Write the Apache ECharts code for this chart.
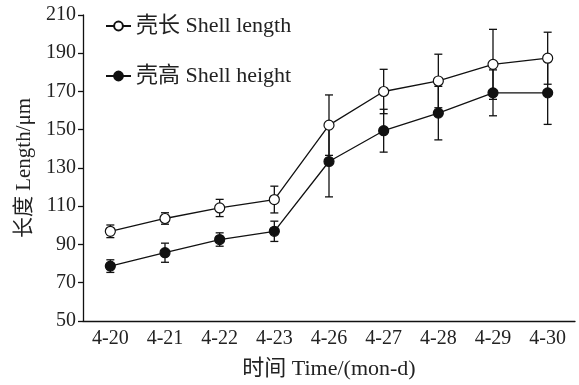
<!DOCTYPE html>
<html><head><meta charset="utf-8">
<script src="https://cdn.jsdelivr.net/npm/echarts@6/dist/echarts.min.js"></script>
<style>html,body{margin:0;padding:0;background:#fff}#c{width:579px;height:385px}</style>
</head><body><div id="c"></div>
<script>
var categories = ['4-20','4-21','4-22','4-23','4-26','4-27','4-28','4-29','4-30'];
var lengthValues = [96.9, 103.6, 109.1, 113.5, 152.4, 170.0, 175.5, 184.2, 187.4];
var lengthErr    = [3.3, 3.0, 4.5, 7.0, 15.8, 11.6, 14.0, 18.3, 13.6];
var heightValues = [78.7, 85.7, 92.6, 96.9, 133.4, 149.5, 158.7, 169.3, 169.3];
var heightErr    = [3.3, 5.0, 3.5, 5.3, 18.5, 11.2, 14.0, 12.0, 16.5];
var yTicks = {min: 50, max: 210, interval: 20};
var seriesNames = ['壳长 Shell length', '壳高 Shell height'];
var xName = '时间 Time/(mon-d)';
var yName = '长度 Length/μm';

var FONT = '"Liberation Serif", "Noto Sans CJK SC", serif';
var TXT = '#222';

var chart = echarts.init(document.getElementById('c'), null, {renderer: 'canvas'});

function errData(vals, errs) {
  return vals.map(function (v, i) { return [i, v - errs[i], v + errs[i]]; });
}
function errRender(params, api) {
  var x = api.value(0);
  var lo = api.coord([x, api.value(1)]);
  var hi = api.coord([x, api.value(2)]);
  var w = 4;
  var st = {stroke: '#111', lineWidth: 1.3};
  return {
    type: 'group',
    children: [
      {type: 'line', shape: {x1: lo[0], y1: lo[1], x2: hi[0], y2: hi[1]}, style: st},
      {type: 'line', shape: {x1: lo[0] - w, y1: lo[1], x2: lo[0] + w, y2: lo[1]}, style: st},
      {type: 'line', shape: {x1: hi[0] - w, y1: hi[1], x2: hi[0] + w, y2: hi[1]}, style: st}
    ]
  };
}

chart.setOption({
  animation: false,
  backgroundColor: '#fff',
  grid: {left: 83, right: 4, top: 15, bottom: 63, containLabel: false},
  legend: {
    orient: 'vertical', left: 100, top: 10, itemGap: 28, itemWidth: 25, itemHeight: 11,
    textStyle: {fontFamily: FONT, fontSize: 22, color: TXT},
    data: seriesNames
  },
  xAxis: {
    type: 'category', data: categories, boundaryGap: true,
    name: xName, nameLocation: 'middle', nameGap: 37,
    nameTextStyle: {fontFamily: FONT, fontSize: 22, color: TXT},
    axisLine: {lineStyle: {color: '#111', width: 1.3}},
    axisTick: {inside: true, length: 5, lineStyle: {color: '#111', width: 1.3}},
    axisLabel: {fontFamily: FONT, fontSize: 20, color: TXT, margin: 8},
    splitLine: {show: false}
  },
  yAxis: {
    type: 'value', min: yTicks.min, max: yTicks.max, interval: yTicks.interval,
    name: yName, nameLocation: 'middle', nameGap: 47,
    nameTextStyle: {fontFamily: FONT, fontSize: 21, color: TXT},
    axisLine: {show: true, lineStyle: {color: '#111', width: 1.3}},
    axisTick: {show: true, inside: false, length: 5, lineStyle: {color: '#111', width: 1.3}},
    axisLabel: {fontFamily: FONT, fontSize: 20, color: TXT, margin: 7},
    splitLine: {show: false}
  },
  series: [
    {type: 'custom', name: 'lenErr', renderItem: errRender, data: errData(lengthValues, lengthErr), z: 1, silent: true},
    {type: 'custom', name: 'hgtErr', renderItem: errRender, data: errData(heightValues, heightErr), z: 1, silent: true},
    {
      type: 'line', name: seriesNames[0], data: lengthValues, z: 3,
      symbol: 'circle', symbolSize: 10, showAllSymbol: true,
      lineStyle: {color: '#111', width: 1.3},
      itemStyle: {color: '#fff', borderColor: '#111', borderWidth: 1.2}
    },
    {
      type: 'line', name: seriesNames[1], data: heightValues, z: 3,
      symbol: 'circle', symbolSize: 10, showAllSymbol: true,
      lineStyle: {color: '#111', width: 1.3},
      itemStyle: {color: '#111', borderColor: '#111', borderWidth: 1.2}
    }
  ]
});
</script></body></html>
